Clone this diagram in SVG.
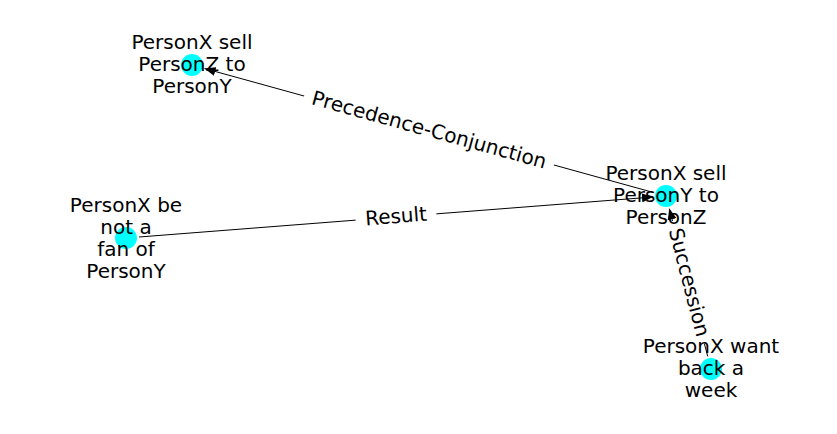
<svg xmlns="http://www.w3.org/2000/svg" width="837" height="434" viewBox="0 0 837 434">
  <style>
    .edge { stroke: #000; stroke-width: 1; fill: none; }
    .node circle { fill: #00ffff; stroke: none; }
    .node text, .elabel text { font-family: "DejaVu Sans", "Liberation Sans", sans-serif; font-size: 20px; fill: #000; text-anchor: middle; }
    .elabel rect { fill: #fff; stroke: #fff; }
  </style>
  <defs>
    <marker id="arrow" viewBox="0 0 11 9" refX="11" refY="4.5" markerWidth="11" markerHeight="9" markerUnits="userSpaceOnUse" orient="auto">
      <path d="M0,0 L11,4.5 L0,9 z" fill="#000"/>
    </marker>
  </defs>
  <rect width="837" height="434" fill="#fff"/>
  <g id="edges">
    <line class="edge" x1="653.5" y1="192.5" x2="204.5" y2="68.5" marker-end="url(#arrow)"/>
    <line class="edge" x1="139" y1="237" x2="653" y2="197" marker-end="url(#arrow)"/>
    <line class="edge" x1="707.7" y1="356.4" x2="669.3" y2="208.6" marker-end="url(#arrow)"/>
  </g>
  <g id="edge-labels">
    <g class="elabel" transform="translate(429,130.5) rotate(15.45)">
      <rect x="-129" y="-14" width="258" height="28" rx="5"/>
      <text y="6">Precedence-Conjunction</text>
    </g>
    <g class="elabel" transform="translate(396,217) rotate(-4.45)">
      <rect x="-40" y="-14" width="80" height="28" rx="5"/>
      <text y="6">Result</text>
    </g>
    <g class="elabel" transform="translate(688.5,282.5) rotate(75.4)">
      <rect x="-63" y="-14" width="126" height="28" rx="5"/>
      <text y="6">Succession</text>
    </g>
  </g>
  <g id="node-sell-z-to-y" class="node">
    <circle cx="192" cy="65" r="11"/>
    <text x="192" y="49">PersonX sell</text>
    <text x="192" y="71">PersonZ to</text>
    <text x="192" y="93">PersonY</text>
  </g>
  <g id="node-sell-y-to-z" class="node">
    <circle cx="666" cy="196" r="11"/>
    <text x="666" y="180">PersonX sell</text>
    <text x="666" y="202">PersonY to</text>
    <text x="666" y="224">PersonZ</text>
  </g>
  <g id="node-not-fan" class="node">
    <circle cx="126" cy="238" r="11"/>
    <text x="126" y="212">PersonX be</text>
    <text x="126" y="234">not a</text>
    <text x="126" y="256">fan of</text>
    <text x="126" y="278">PersonY</text>
  </g>
  <g id="node-want-back" class="node">
    <circle cx="711" cy="369" r="11"/>
    <text x="711" y="353">PersonX want</text>
    <text x="711" y="375">back a</text>
    <text x="711" y="397">week</text>
  </g>
</svg>
